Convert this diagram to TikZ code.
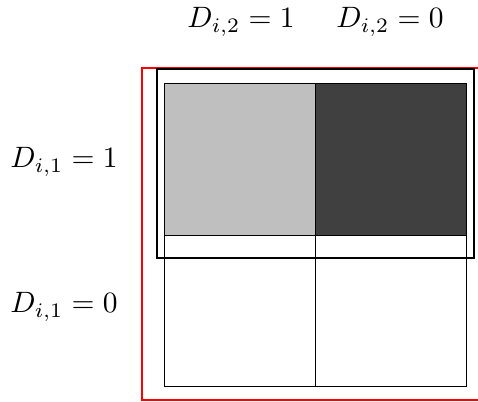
\documentclass[tikz,border=0pt]{standalone}
\usepackage{graphicx}
\newcommand{\biglbl}[1]{\scalebox{2.95}{$#1$}}
\definecolor{pure red}{RGB}{255,0,0}
\begin{document}
\begin{tikzpicture}[x=1pt,y=-1pt,
  cell/.style={draw=black,line width=1pt,minimum width=151pt,minimum height=151pt,inner sep=0pt,outer sep=0pt},
  lbl/.style={inner sep=0pt},
  frame/.style={draw=black,line width=2pt},
  redframe/.style={draw=pure red,line width=2pt}]
\useasboundingbox (0,0) rectangle (478,401);
% red frame (open to the right)
\coordinate (r1) at (478,68.5);
\coordinate (r2) at (142,68.5);
\coordinate (r3) at (142,399.5);
\coordinate (r4) at (478,399.5);
\draw[redframe] (r1) -- (r2) -- (r3) -- (r4);
% cells
\node[cell,fill=black!25!white] (c11) at (239.5,159.5) {};
\node[cell,fill=black!75!white] (c12) at (390.5,159.5) {};
\node[cell] (c21) at (239.5,310.5) {};
\node[cell] (c22) at (390.5,310.5) {};
% black frame
\coordinate (f1) at (156.5,69);
\coordinate (f2) at (473.5,257.5);
\draw[frame] (f1) rectangle (f2);
% labels
\node[lbl] (t1) at (241,22) {\biglbl{D_{i,2}=1}};
\node[lbl] (t2) at (390,22) {\biglbl{D_{i,2}=0}};
\node[lbl] (s1) at (64,162) {\biglbl{D_{i,1}=1}};
\node[lbl] (s2) at (64,307) {\biglbl{D_{i,1}=0}};
\end{tikzpicture}
\end{document}
